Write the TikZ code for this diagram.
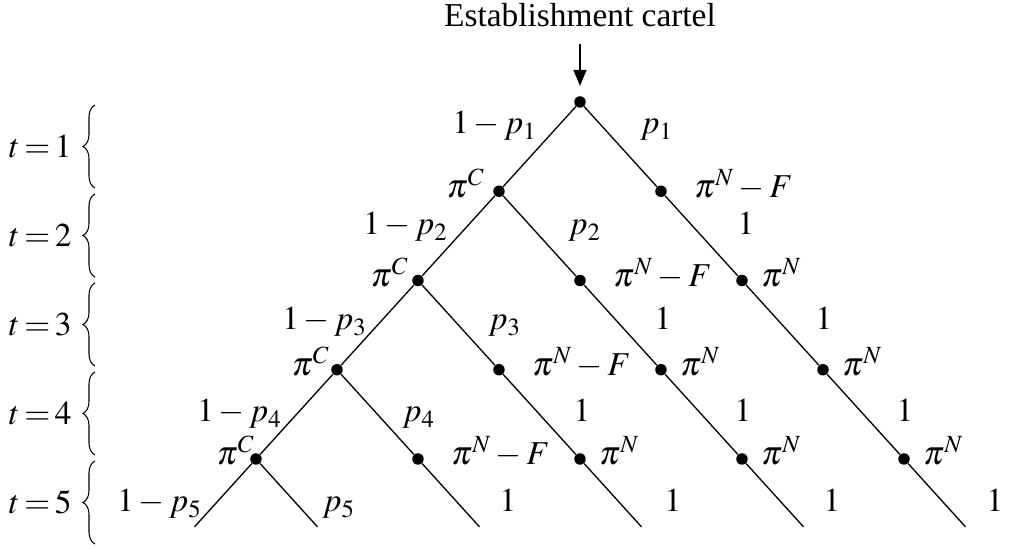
\documentclass[tikz,border=0pt]{standalone}
\usepackage{mathptmx}
\usepackage[no-math]{fontspec}
\setmainfont{Liberation Serif}
\usepackage{tikz}
\usetikzlibrary{positioning,arrows.meta,calc,decorations.pathreplacing}

\begin{document}
\begin{tikzpicture}[
    font=\fontsize{19}{23}\selectfont,
    dot/.style={circle, fill=black, inner sep=0pt, minimum size=0.23cm},
    br/.style={line width=0.75pt},
    lbl/.style={inner sep=0pt},
    tbrace/.style={decorate, decoration={brace, amplitude=0.24cm}, line width=0.6pt},
  ]
  \useasboundingbox (-11.6,-8.94) rectangle (8.6,2.04);

  % Title
  \node[lbl, anchor=base] (title) at (0,1.5) {Establishment cartel};

  % Dots: n-<level>-<steps to the right>
  \foreach \i in {0,...,4} {
    \foreach \m in {0,...,\i} {
      \node[dot] (n-\i-\m) at ({(2*\m-\i)*1.62},{-1.785*\i}) {};
    }
  }
  \coordinate (e-L) at ($(n-4-0)+(-1.23,-1.357)$);
  \foreach \m in {0,...,4}
    \coordinate (e-\m) at ($(n-4-\m)+(1.23,-1.357)$);

  % Arrow into the root
  \draw[br, -{Triangle[length=0.32cm, width=0.26cm]},
        shorten <=0.32cm, shorten >=0.2cm] (title) -- (n-0-0);

  % Branches
  \foreach \i in {0,...,3} {
    \pgfmathtruncatemacro\j{\i+1}
    \draw[br] (n-\i-0) -- (n-\j-0);
    \foreach \m in {0,...,\i} {
      \pgfmathtruncatemacro\k{\m+1}
      \draw[br] (n-\i-\m) -- (n-\j-\k);
    }
  }
  \draw[br] (n-4-0) -- (e-L);
  \foreach \m in {0,...,4}
    \draw[br] (n-4-\m) -- (e-\m);

  % Probabilities
  \foreach \k/\xl/\xr/\yb in {1/-0.86/1.2/-0.64, 2/-2.64/-0.24/-2.66,
      3/-4.26/-1.84/-4.56, 4/-5.96/-3.56/-6.40, 5/-7.56/-5.16/-8.20} {
    \node[lbl, anchor=base east] (q-\k) at (\xl,\yb) {$1-p_{\k}$};
    \node[lbl, anchor=base west] (p-\k) at (\xr,\yb) {$p_{\k}$};
  }
  \foreach \x/\y [count=\c] in {3.32/-2.66, 1.66/-4.56, 4.88/-4.56,
      0.04/-6.40, 3.26/-6.40, 6.5/-6.40,
      -1.44/-8.20, 1.86/-8.20, 5.04/-8.20, 8.3/-8.20}
    \node[lbl, anchor=base] (one-\c) at (\x,\y) {$1$};

  % Payoffs
  \foreach \i/\dx in {1/-0.28, 2/-0.18, 3/-0.14, 4/-0.02}
    \node[lbl, anchor=base east] (c-\i) at ($(n-\i-0)+(\dx,-0.12)$) {$\pi^{C}$};
  \foreach \i in {1,...,4}
    \node[lbl, anchor=base west] (f-\i) at ($(n-\i-1)+(0.66,-0.12)$) {$\pi^{N}-F$};
  \foreach \i/\m in {2/2, 3/2, 3/3, 4/2, 4/3, 4/4}
    \node[lbl, anchor=base west] (w-\i-\m) at ($(n-\i-\m)+(0.38,-0.12)$) {$\pi^{N}$};

  % Periods
  \foreach \k in {1,...,5} {
    \pgfmathsetmacro\yt{-0.06-1.78*(\k-1)}
    \pgfmathsetmacro\yb{\yt-1.66}
    \coordinate (bt-\k) at (-9.7,\yt);
    \coordinate (bb-\k) at (-9.7,\yb);
    \draw[tbrace] (bb-\k) -- (bt-\k);
    \node[lbl, anchor=east] (t-\k) at ($(bb-\k)!0.5!(bt-\k)+(-0.46,0)$) {$t\:{=}\:\k$};
  }
\end{tikzpicture}
\end{document}
